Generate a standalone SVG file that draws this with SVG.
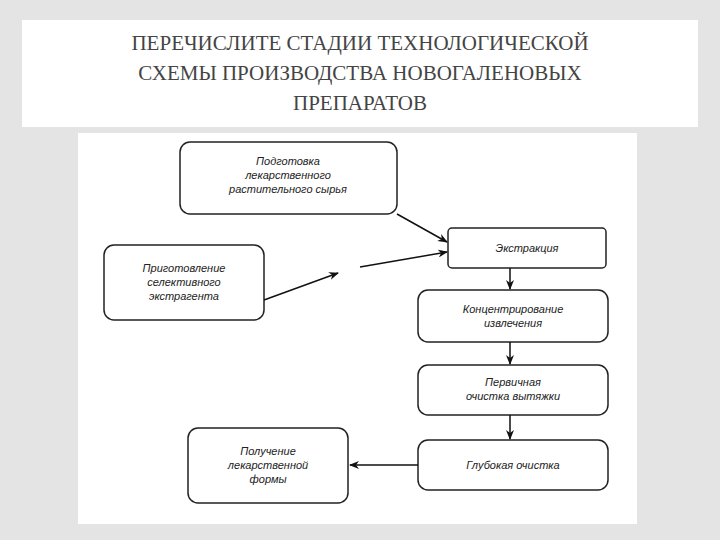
<svg xmlns="http://www.w3.org/2000/svg" width="720" height="540" viewBox="0 0 720 540">
<defs>
<marker id="ah" markerWidth="10" markerHeight="8" refX="9" refY="4" orient="auto" markerUnits="userSpaceOnUse"><path d="M0,0 L10,4 L0,8 L3,4 Z" fill="#111"/></marker>
<style>
.b{fill:#fff;stroke:#222;stroke-width:1.5}
.t{font-family:"Liberation Sans",Arial,sans-serif;font-style:italic;font-size:11px;fill:#222;text-anchor:middle}
.h{font-family:"Liberation Serif","Times New Roman",serif;font-size:21px;fill:#444;text-anchor:middle}
.c{stroke:#111;stroke-width:1.5;fill:none;marker-end:url(#ah)}
</style>
</defs>
<rect width="720" height="540" fill="#e4e4e4"/>
<rect x="22" y="20" width="676" height="107" fill="#fff"/>
<text class="h" x="360" y="50">ПЕРЕЧИСЛИТЕ СТАДИИ ТЕХНОЛОГИЧЕСКОЙ</text>
<text class="h" x="360" y="80">СХЕМЫ ПРОИЗВОДСТВА НОВОГАЛЕНОВЫХ</text>
<text class="h" x="360" y="110">ПРЕПАРАТОВ</text>
<rect x="78" y="133" width="559" height="391" fill="#fff"/>
<g id="n1"><rect class="b" x="180" y="142" width="217" height="72" rx="10"/><text class="t" x="288" y="165">Подготовка</text><text class="t" x="288" y="179">лекарственного</text><text class="t" x="288" y="193">растительного сырья</text></g>
<g id="n2"><rect class="b" x="448" y="228" width="158" height="40" rx="4"/><text class="t" x="527" y="252">Экстракция</text></g>
<g id="n3"><rect class="b" x="104" y="245" width="160" height="75" rx="10"/><text class="t" x="184" y="272">Приготовление</text><text class="t" x="184" y="286">селективного</text><text class="t" x="184" y="300">экстрагента</text></g>
<g id="n4"><rect class="b" x="418" y="290" width="190" height="52" rx="10"/><text class="t" x="513" y="313">Концентрирование</text><text class="t" x="513" y="327">извлечения</text></g>
<g id="n5"><rect class="b" x="418" y="365" width="190" height="50" rx="10"/><text class="t" x="513" y="386">Первичная</text><text class="t" x="513" y="400">очистка вытяжки</text></g>
<g id="n6"><rect class="b" x="418" y="440" width="190" height="50" rx="10"/><text class="t" x="513" y="469">Глубокая очистка</text></g>
<g id="n7"><rect class="b" x="188" y="428" width="160" height="75" rx="10"/><text class="t" x="268" y="455">Получение</text><text class="t" x="268" y="469">лекарственной</text><text class="t" x="268" y="483">формы</text></g>
<g id="connectors">
<path class="c" d="M397,214 L447,242"/>
<path class="c" d="M264,300 L338,273"/>
<path class="c" d="M360,267 L447,252"/>
<path class="c" d="M510,268 L510,289"/>
<path class="c" d="M510,342 L510,364"/>
<path class="c" d="M510,415 L510,439"/>
<path class="c" d="M418,465 L350,465"/>
</g>
</svg>
